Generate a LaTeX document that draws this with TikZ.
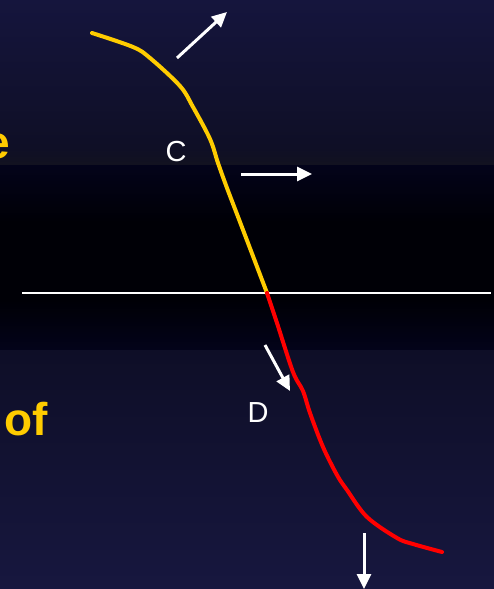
\documentclass[tikz,border=0pt]{standalone}
\usepackage{fontspec}
\setmainfont{Liberation Sans}
\usetikzlibrary{arrows.meta}
\definecolor{navytop}{HTML}{15153D}
\definecolor{navymid}{HTML}{0F0F26}
\definecolor{greyband}{HTML}{121220}
\definecolor{darkband}{HTML}{03031A}
\definecolor{blackband}{HTML}{000006}
\definecolor{navylow}{HTML}{0E0E27}
\definecolor{navybot}{HTML}{17173F}
\definecolor{ygold}{HTML}{FFCC00}
\definecolor{rred}{HTML}{FF0000}
\tikzset{
  curveline/.style={line width=4pt, line cap=round, line join=round},
  whitearrow/.style={white, line width=3pt, -{Triangle[length=15pt,width=14pt]}},
  axisline/.style={white, line width=1.5pt},
  lbl/.style={text=white, font=\fontsize{29}{30}\selectfont, inner sep=0pt},
  sidetext/.style={text=ygold, font=\bfseries\fontsize{46}{48}\selectfont, inner sep=0pt}
}
\begin{document}
\begin{tikzpicture}[x=1pt,y=-1pt]
\useasboundingbox (0,0) rectangle (494,589);
\clip (0,0) rectangle (494,589);
\fill[top color=navytop, bottom color=navymid] (0,0) rectangle (494,147);
\fill[top color=navymid, bottom color=greyband] (0,147) rectangle (494,165);
\fill[top color=darkband, bottom color=blackband] (0,165) rectangle (494,222);
\fill[blackband] (0,222) rectangle (494,300);
\fill[top color=blackband, bottom color=darkband] (0,300) rectangle (494,350);
\fill[top color=navylow, bottom color=navybot] (0,350) rectangle (494,589);
\node[sidetext, anchor=base east] (e) at (10,158) {e};
\node[sidetext, anchor=base west] (of) at (4,435) {of};
\coordinate (axL) at (22,293);
\coordinate (axR) at (491,293);
\draw[axisline] (axL) -- (axR);
\coordinate (mid) at (267,293);
\draw[curveline, ygold] plot[smooth, tension=0.55] coordinates {(92,33) (133,47) (150,58) (180,86) (193,107) (210,139) (218,163) (227,188) (240,222) (267,293)};
\draw[curveline, rred] plot[smooth, tension=0.55] coordinates {(267,293) (277,323) (293,372) (303,391) (310,413) (323,447) (337,475) (347,490) (367,517) (397,538) (413,544) (442,552)};
\node[lbl] (C) at (176,152) {C};
\node[lbl] (D) at (258,413) {D};
\coordinate (a1s) at (177,58);  \coordinate (a1e) at (227,12);
\coordinate (a2s) at (241,174); \coordinate (a2e) at (312,174);
\coordinate (a3s) at (265,345); \coordinate (a3e) at (290,391);
\coordinate (a4s) at (364,533); \coordinate (a4e) at (364,589);
\draw[whitearrow] (a1s) -- (a1e);
\draw[whitearrow] (a2s) -- (a2e);
\draw[whitearrow] (a3s) -- (a3e);
\draw[whitearrow] (a4s) -- (a4e);
\end{tikzpicture}
\end{document}
